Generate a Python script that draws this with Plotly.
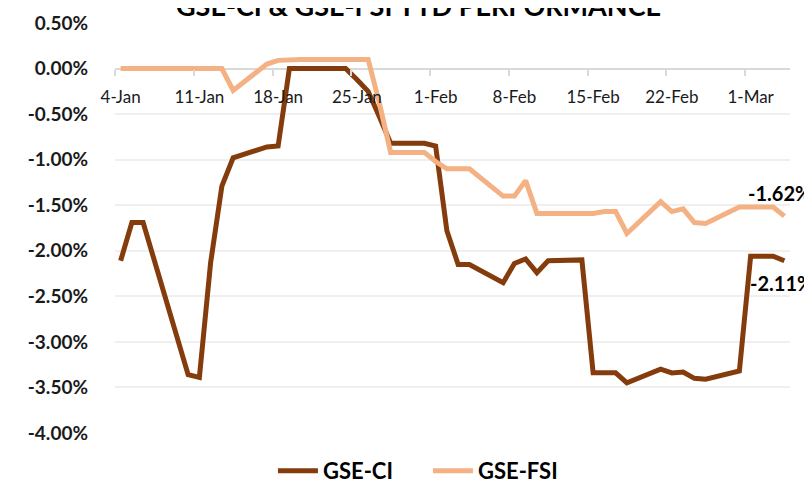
import plotly.graph_objects as go

dates = [
    "2022-01-04", "2022-01-05", "2022-01-06", "2022-01-10", "2022-01-11", "2022-01-12",
    "2022-01-13", "2022-01-14", "2022-01-17", "2022-01-18", "2022-01-19", "2022-01-20",
    "2022-01-21", "2022-01-24", "2022-01-25", "2022-01-26", "2022-01-27", "2022-01-28",
    "2022-01-31", "2022-02-01", "2022-02-02", "2022-02-03", "2022-02-04", "2022-02-07",
    "2022-02-08", "2022-02-09", "2022-02-10", "2022-02-11", "2022-02-14", "2022-02-15",
    "2022-02-16", "2022-02-17", "2022-02-18", "2022-02-21", "2022-02-22", "2022-02-23",
    "2022-02-24", "2022-02-25", "2022-02-28", "2022-03-01", "2022-03-02", "2022-03-03",
    "2022-03-04",
]

gse_ci = [
    -2.11, -1.69, -1.69, -3.36, -3.39, -2.13,
    -1.29, -0.98, -0.86, -0.85, 0.00, 0.00,
    0.00, 0.00, -0.12, -0.25, -0.53, -0.82,
    -0.82, -0.85, -1.78, -2.15, -2.15, -2.35,
    -2.14, -2.09, -2.24, -2.11, -2.10, -3.34,
    -3.34, -3.34, -3.45, -3.30, -3.34, -3.33,
    -3.40, -3.41, -3.32, -2.06, -2.06, -2.06,
    -2.11,
]

gse_fsi = [
    0.00, 0.00, 0.00, 0.00, 0.00, 0.00,
    0.00, -0.24, 0.05, 0.09, 0.10, 0.10,
    0.10, 0.10, 0.10, 0.10, -0.38, -0.92,
    -0.92, -1.02, -1.10, -1.10, -1.10, -1.40,
    -1.40, -1.23, -1.59, -1.59, -1.59, -1.59,
    -1.57, -1.57, -1.81, -1.46, -1.57, -1.54,
    -1.69, -1.70, -1.52, -1.52, -1.52, -1.52,
    -1.62,
]

tick_dates = ["2022-01-04", "2022-01-11", "2022-01-18", "2022-01-25", "2022-02-01",
              "2022-02-08", "2022-02-15", "2022-02-22", "2022-03-01"]
tick_labels = ["4-Jan", "11-Jan", "18-Jan", "25-Jan", "1-Feb", "8-Feb", "15-Feb", "22-Feb", "1-Mar"]

y_ticks = [0.5, 0.0, -0.5, -1.0, -1.5, -2.0, -2.5, -3.0, -3.5, -4.0]
y_labels = [f"{v:.2f}%" for v in y_ticks]

TITLE = "GSE-CI & GSE-FSI YTD PERFORMANCE"
CI_COLOR = "#843C0C"
FSI_COLOR = "#F4B183"
FONT = "Lato"

fig = go.Figure()
fig.add_trace(go.Scatter(x=dates, y=gse_ci, mode="lines", name="GSE-CI",
                         line=dict(color=CI_COLOR, width=5)))
fig.add_trace(go.Scatter(x=dates, y=gse_fsi, mode="lines", name="GSE-FSI",
                         line=dict(color=FSI_COLOR, width=5)))

# end-point data labels
fig.add_annotation(x=dates[-1], y=gse_fsi[-1], text=f"{gse_fsi[-1]:.2f}%", showarrow=False,
                   yshift=23, xshift=-5, font=dict(family=FONT, size=20, color="#000000", weight="bold"))
fig.add_annotation(x=dates[-1], y=gse_ci[-1], text=f"{gse_ci[-1]:.2f}%", showarrow=False,
                   yshift=-22, xshift=-3, font=dict(family=FONT, size=20, color="#000000", weight="bold"))

# title (partly above the page top, as in the reference)
fig.add_annotation(text=f"<b>{TITLE}</b>", xref="paper", yref="paper", x=0.449, y=1.043,
                   xanchor="center", yanchor="middle", showarrow=False,
                   font=dict(family=FONT, size=27, color="#000000"))

y_min, y_max = -4.0, 0.5
zero_frac = (0 - y_min) / (y_max - y_min)

fig.update_layout(
    width=804, height=471,
    margin=dict(l=107, r=22, t=15, b=46, autoexpand=False),
    paper_bgcolor="white", plot_bgcolor="white",
    font=dict(family=FONT, color="#000000"),
    showlegend=True,
    legend=dict(orientation="h", x=0.234, xanchor="left", yref="container", y=0.017,
                yanchor="middle", font=dict(family=FONT, size=22, color="#000000", weight="bold"),
                itemwidth=40, entrywidth=100, entrywidthmode="pixels",
                bgcolor="rgba(0,0,0,0)"),
    xaxis=dict(
        type="date", automargin=False,
        range=["2022-01-03 12:00", "2022-03-04 12:00"],
        tickmode="array", tickvals=tick_dates, ticktext=tick_labels,
        ticks="", showgrid=False, showline=False, zeroline=False,
        ticklabelstandoff=16,
        tickfont=dict(family=FONT, size=17, color="#1a1a1a"),
        anchor="free", position=zero_frac,
        minor=dict(tick0="2022-01-03 12:00", dtick=7 * 86400000, ticks="outside",
                   ticklen=6, tickwidth=1.5, tickcolor="#D9D9D9", showgrid=False),
    ),
    yaxis=dict(
        range=[y_min, y_max], automargin=False,
        tickmode="array", tickvals=y_ticks, ticktext=y_labels,
        showgrid=True, gridcolor="#EFEFEF", gridwidth=1.5,
        zeroline=True, zerolinecolor="#D9D9D9", zerolinewidth=1.5,
        showline=False, ticks="", ticklabelstandoff=26,
        tickfont=dict(family=FONT, size=19, color="#1a1a1a", weight="bold"),
    ),
)

fig.write_html("out.html")
